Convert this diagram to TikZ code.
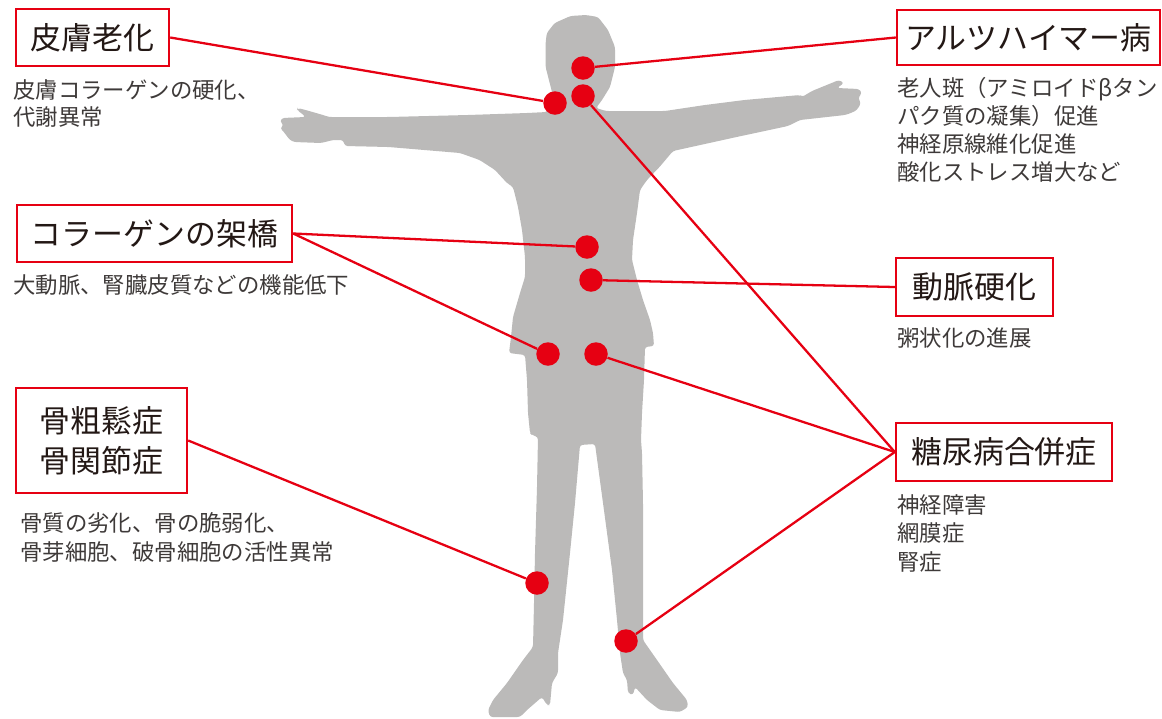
\documentclass[tikz,border=0pt]{standalone}
\usepackage{fontspec}
\newfontfamily\cjk{Noto Sans CJK JP}
\definecolor{jred}{RGB}{230,0,18}
\definecolor{jgray}{RGB}{187,186,185}
\definecolor{jtitle}{RGB}{35,24,21}
\definecolor{jtext}{RGB}{62,58,57}
\tikzset{
  box/.style={draw=jred, line width=1.4pt, fill=white, inner sep=0pt, align=center,
    text=jtitle, font=\cjk\fontsize{17.6}{22.7}\selectfont},
  dot/.style={circle, fill=jred, inner sep=0pt, minimum size=0.47cm},
  link/.style={draw=jred, line width=1.3pt},
  desc/.style={anchor=north west, inner sep=0pt, align=left, text=jtext,
    font=\cjk\fontsize{12.75}{16}\selectfont}
}
\begin{document}
\begin{tikzpicture}[x=0.02cm, y=-0.02cm]
\useasboundingbox (0,0) rectangle (1162,718);

% silhouette of the figure with outstretched arms
\fill[jgray, rounded corners=1.5pt]
  (545.6,43) -- (546.8,33) -- (554.7,23) -- (570.5,16) -- (586,15) -- (598,17)
  -- (608,30) -- (615,47) -- (615,67) -- (610,87) -- (602,100) -- (596,108)
  -- (606,111) -- (665,111) -- (705,105) -- (744.5,100) -- (800,95) -- (802,97)
  -- (812,91) -- (839,80) -- (844,83) -- (837,88) -- (859,89) -- (862,93)
  -- (858,98) -- (861,103) -- (857,110) -- (851,113) -- (845,115) -- (800,120)
  -- (788,126) -- (736.6,137) -- (673,151) -- (659.5,167) -- (647,180)
  -- (640,190) -- (637,213) -- (633,240) -- (632,260) -- (637,280) -- (643,300)
  -- (650,320) -- (653,333) -- (654,346) -- (645,347) -- (644,380) -- (642,413)
  -- (641,440) -- (642,453) -- (643,503) -- (643,587) -- (643,640) -- (657,660)
  -- (673,683) -- (687,700) -- (688,707) -- (680,712) -- (660,710) -- (647,700)
  -- (635,687) -- (633,695) -- (628,693) -- (627,680) -- (623,673) -- (620,653)
  -- (617,620) -- (612,570) -- (603,503) -- (595,444) -- (580,445) -- (575,503)
  -- (570,553) -- (563,620) -- (558,653) -- (558,673) -- (552,683) -- (550,705)
  -- (547,705) -- (542,697) -- (527,710) -- (520,717) -- (490,717) -- (488,710)
  -- (493,700) -- (507,683) -- (523,660) -- (533,647) -- (534,603) -- (535,553)
  -- (537,487) -- (538,437) -- (532,435) -- (530,433) -- (528,413) -- (527,380)
  -- (525,355) -- (509,353) -- (511,337) -- (513,317) -- (520,293) -- (525,277)
  -- (525,257) -- (522,230) -- (518,207) -- (513,187) -- (507,183) -- (495,170)
  -- (479.6,160) -- (460,153) -- (388.6,147) -- (345,146) -- (343,140)
  -- (333,140) -- (321,143) -- (294,142) -- (290,140) -- (286,135) -- (284,132)
  -- (280,128) -- (284,125) -- (280,122) -- (282,118) -- (305.6,117)
  -- (303.6,115) -- (297,110) -- (297.7,108) -- (305.6,110) -- (323,115)
  -- (329,117) -- (341,117) -- (388.6,117) -- (467.7,115) -- (527,113)
  -- (547,112) -- (554,100) -- (550.7,87) -- (545.6,67) -- cycle;

% marked sites on the body
\node[dot] (d1) at (555,103) {};
\node[dot] (d2) at (583,68) {};
\node[dot] (d3) at (583,96) {};
\node[dot] (d4) at (587,247) {};
\node[dot] (d5) at (591,280) {};
\node[dot] (d6) at (548,354) {};
\node[dot] (d7) at (596,354) {};
\node[dot] (d8) at (537,583) {};
\node[dot] (d9) at (626,641) {};

% labelled boxes
\node[box, minimum width=3.06cm, minimum height=1.14cm] (skin) at (92.5,37.5) {皮膚老化};
\node[box, minimum width=5.26cm, minimum height=1.10cm] (alz) at (1028.5,37.5) {アルツハイマー病};
\node[box, minimum width=5.50cm, minimum height=1.14cm] (coll) at (154.5,233.5) {コラーゲンの架橋};
\node[box, minimum width=3.14cm, minimum height=1.16cm] (art) at (974.5,287) {動脈硬化};
\node[box, minimum width=4.32cm, minimum height=1.16cm] (diab) at (1004,452) {糖尿病合併症};
\node[box, minimum width=3.42cm, minimum height=2.10cm] (bone) at (101.5,440.5) {骨粗鬆症\\骨関節症};

% descriptions under the boxes
\node[desc, font=\cjk\fontsize{12.75}{15.3}\selectfont] (skintxt) at (13,79) {皮膚コラーゲンの硬化、\\代謝異常};
\node[desc] (alztxt) at (897,77) {老人斑（アミロイドβタン\\パク質の凝集）促進\\神経原線維化促進\\酸化ストレス増大など};
\node[desc] (colltxt) at (13,274) {大動脈、腎臓皮質などの機能低下};
\node[desc] (arttxt) at (897,327) {粥状化の進展};
\node[desc, font=\cjk\fontsize{12.75}{16.4}\selectfont] (diabtxt) at (897,494) {神経障害\\網膜症\\腎症};
\node[desc, font=\cjk\fontsize{12.75}{16.4}\selectfont] (bonetxt) at (20,512) {骨質の劣化、骨の脆弱化、\\骨芽細胞、破骨細胞の活性異常};

% connectors from boxes to sites
\draw[link] (skin.east) -- (d1);
\draw[link] (d2) -- (alz.west);
\draw[link] (coll.east) -- (d4);
\draw[link] (coll.east) -- (d6);
\draw[link] (d5) -- (art.west);
\draw[link] (d3) -- (diab.west);
\draw[link] (d7) -- (diab.west);
\draw[link] (d9) -- (diab.west);
\draw[link] (bone.east) -- (d8);
\end{tikzpicture}
\end{document}
